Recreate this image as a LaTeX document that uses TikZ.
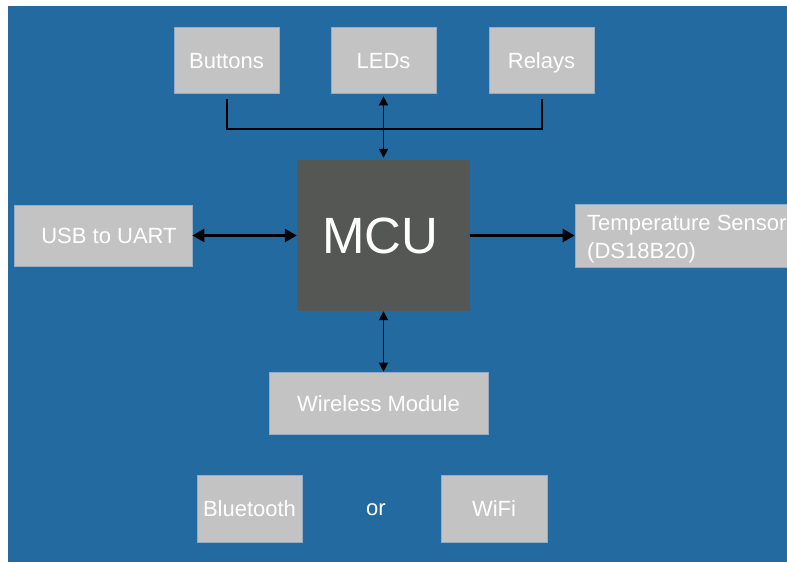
\documentclass[tikz,border=0pt]{standalone}
\usepackage{fontspec}
\setmainfont{Liberation Sans}
\usetikzlibrary{arrows.meta}
\definecolor{bgblue}{RGB}{35,106,160}
\definecolor{boxgray}{RGB}{195,195,195}
\definecolor{boxedge}{RGB}{150,172,196}
\definecolor{mcugray}{RGB}{85,87,85}
\begin{document}
\begin{tikzpicture}[x=1pt,y=-1pt,
  box/.style={fill=boxgray, draw=boxedge, line width=0.7pt, inner sep=0pt,
    text=white, font=\fontsize{22}{28}\selectfont, text height=16pt, text depth=0pt},
  plaintext/.style={inner sep=0pt, text=white, font=\fontsize{22}{28}\selectfont},
  mcubox/.style={fill=mcugray, inner sep=0pt, text=white, font=\fontsize{51}{60}\selectfont},
  harrow/.style={line width=2.6pt, {Triangle[length=12pt,width=13pt]}-{Triangle[length=12pt,width=13pt]}},
  harrowR/.style={line width=2.6pt, -{Triangle[length=12pt,width=13pt]}},
  varrow/.style={line width=1.8pt, {Triangle[length=9pt,width=9pt]}-{Triangle[length=9pt,width=9pt]}},
  bracket/.style={line width=2pt}
]
\useasboundingbox (0,0) rectangle (787,562);
\clip (0,0) rectangle (787,562);
\fill[bgblue] (8,6) rectangle (787,562);

\node[box, minimum width=105pt, minimum height=66pt] (btn) at (226.5,60) {Buttons};
\node[box, minimum width=105pt, minimum height=66pt] (led) at (383.5,60) {LEDs};
\node[box, minimum width=105pt, minimum height=66pt] (rel) at (541.5,60) {Relays};

\node[mcubox, minimum width=173pt, minimum height=151pt] (mcu) at (383.5,235.5) {\hspace*{-6pt}MCU};

\node[box, minimum width=178pt, minimum height=61pt] (usb) at (103,235.5) {\hspace*{12pt}USB to UART};
\node[box, minimum width=225pt, minimum height=63pt] (temp) at (687.5,235.5) {};
\node[plaintext, anchor=west, align=left] (tempt) at (587,239) {Temperature Sensor\\(DS18B20)};

\node[box, minimum width=219pt, minimum height=62pt] (wir) at (378.5,403) {Wireless Module};

\node[box, minimum width=105pt, minimum height=67pt] (bt) at (249.5,508.5) {Bluetooth};
\node[plaintext] (or) at (376,510) {or};
\node[box, minimum width=106pt, minimum height=67pt] (wifi) at (494,508.5) {WiFi};

\coordinate (bj) at (383.5,129);
\draw[bracket] ([yshift=-6pt]btn.south) |- (bj) -| ([yshift=-6pt]rel.south);
\draw[varrow] ([yshift=-3pt]led.south) -- ([yshift=2pt]mcu.north);
\draw[varrow] (mcu.south) -- (mcu.south |- wir.north);
\draw[harrow] (usb.east) -- (mcu.west);
\draw[harrowR] (mcu.east) -- (temp.west);
\end{tikzpicture}
\end{document}
